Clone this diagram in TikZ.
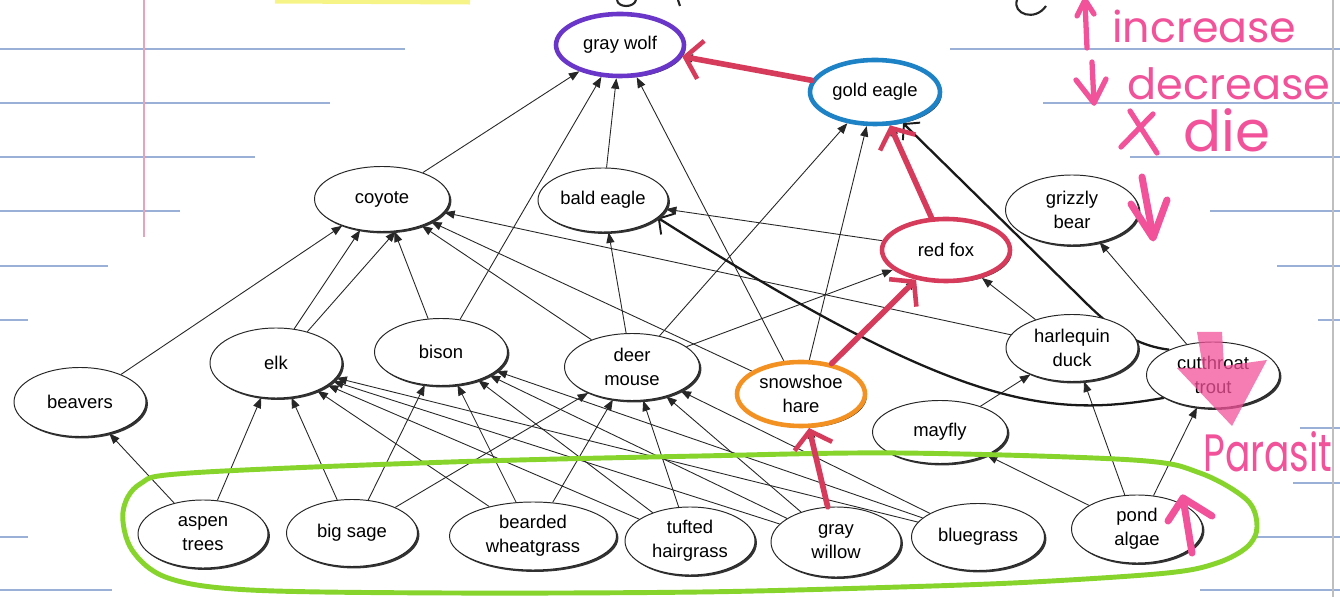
\documentclass[tikz,border=0pt]{standalone}
\usepackage{fontspec}
\setmainfont{Liberation Sans}
\newfontfamily\hand{Poppins}
\usetikzlibrary{shapes.geometric,arrows.meta,shadows}
\pgfdeclarelayer{bg}
\pgfdeclarelayer{edges}
\pgfsetlayers{bg,edges,main}
\definecolor{nbblue}{HTML}{9AB0D6}
\definecolor{marginred}{HTML}{E9A3B6}
\definecolor{wolfpurple}{HTML}{6A36C9}
\definecolor{eagleblue}{HTML}{1E82C6}
\definecolor{hareorange}{HTML}{F39222}
\definecolor{foxred}{HTML}{D63B5B}
\definecolor{limegreen}{HTML}{86D42C}
\definecolor{pinkink}{HTML}{F2529A}
\definecolor{hilite}{HTML}{F6F26A}
\begin{document}
\begin{tikzpicture}[x=0.02cm,y=-0.02cm,
  sp/.style={ellipse, draw=black!85, line width=0.55pt, fill=white, inner sep=0pt,
    align=center, font=\fontsize{10.5}{13.6}\selectfont,
    minimum width=2.64cm, minimum height=1.34cm,
    drop shadow={shadow xshift=1.1pt, shadow yshift=-1.1pt, fill=black!80, opacity=1}},
  sz/.style 2 args={minimum width=#1*0.02cm, minimum height=#2*0.02cm},
  ring/.style={draw=#1, line width=2.6pt},
  eat/.style={draw=black!85, line width=0.5pt, -{Triangle[length=6pt,width=4.6pt]}},
  redeat/.style={draw=foxred, line width=3.2pt, line cap=round,
    -{Straight Barb[length=9pt,width=22pt,line width=2.6pt]}},
  handline/.style={draw=black!90, line width=1.3pt,
    -{Straight Barb[length=6pt,width=14pt,line width=1.1pt]}},
  nbline/.style={draw=nbblue, line width=0.9pt},
  pinkpen/.style={draw=pinkink, line width=3pt, line cap=round, line join=round},
  handtext/.style={anchor=base west, inner sep=0pt, text=pinkink},
]
\useasboundingbox (0,0) rectangle (1340,597);

% ---------- notebook paper ----------
\begin{pgfonlayer}{bg}
\fill[white] (0,0) rectangle (1340,597);
\draw[nbline] (0,49) -- (405,49);
\draw[nbline] (0,103) -- (330,103);
\draw[nbline] (0,157) -- (255,157);
\draw[nbline] (0,211) -- (180,211);
\draw[nbline] (0,266) -- (108,266);
\draw[nbline] (0,320) -- (28,320);
\draw[nbline] (0,537) -- (28,537);
\draw[nbline] (0,590) -- (112,590);
\draw[nbline] (950,49) -- (1340,49);
\draw[nbline] (1043,103) -- (1340,103);
\draw[nbline] (1130,157) -- (1340,157);
\draw[nbline] (1210,211) -- (1340,211);
\draw[nbline] (1277,266) -- (1340,266);
\draw[nbline] (1318,320) -- (1340,320);
\draw[nbline] (1300,428) -- (1340,428);
\draw[nbline] (1293,483) -- (1340,483);
\draw[nbline] (1257,537) -- (1340,537);
\draw[nbline] (1200,590) -- (1340,590);
\draw[marginred, line width=0.9pt] (144,0) -- (144,237);
\draw[black!25, line width=0.8pt] (1333,0) -- (1333,597);
\draw[hilite, line width=4pt, opacity=.8] (275,0) -- (470,1);
\draw[black!85, line width=1.2pt] (1017,0) .. controls (1012,14) and (1035,22) .. (1046,6);
\draw[black!85, line width=1.2pt] (617,0) .. controls (618,8) and (634,8) .. (636,0);
\draw[black!85, line width=1.2pt] (678,0) -- (680,6);
\end{pgfonlayer}

% ---------- species ----------
\node[sp, sz={128}{62}, ring=wolfpurple] (graywolf) at (620,45) {gray wolf};
\node[sp, sz={130}{64}, ring=eagleblue] (goldeagle) at (875,92) {gold eagle};
\node[sp, sz={135}{65}] (coyote) at (382,199) {coyote};
\node[sp, sz={130}{64}] (baldeagle) at (603,200) {bald eagle};
\node[sp, sz={133}{70}] (grizzly) at (1072,210) {grizzly\\bear};
\node[sp, sz={128}{62}, ring=foxred] (redfox) at (946,250) {red fox};
\node[sp, sz={132}{69}] (beavers) at (80,402) {beavers};
\node[sp, sz={132}{70}] (elk) at (276,363) {elk};
\node[sp, sz={133}{67}] (bison) at (441,352) {bison};
\node[sp, sz={135}{67}] (deermouse) at (632,367) {deer\\mouse};
\node[sp, sz={128}{64}, ring=hareorange] (hare) at (801,394) {snowshoe\\hare};
\node[sp, sz={132}{67}] (duck) at (1072,348) {harlequin\\duck};
\node[sp, sz={133}{66}] (trout) at (1213,375) {cutthroat\\trout};
\node[sp, sz={135}{63}] (mayfly) at (940,432) {mayfly};
\node[sp, sz={130}{68}] (aspen) at (203,534) {aspen\\trees};
\node[sp, sz={131}{67}] (sage) at (352,533) {big sage};
\node[sp, sz={167}{68}] (wheatgrass) at (533,536) {bearded\\wheatgrass};
\node[sp, sz={130}{68}] (hairgrass) at (690,541) {tufted\\hairgrass};
\node[sp, sz={130}{70}] (willow) at (836,542) {gray\\willow};
\node[sp, sz={133}{67}] (bluegrass) at (978,537) {bluegrass};
\node[sp, sz={131}{68}] (algae) at (1137,529) {pond\\algae};

% ---------- who eats whom ----------
\begin{pgfonlayer}{edges}
\draw[eat] (coyote) -- (graywolf);
\draw[eat] (bison) -- (graywolf);
\draw[eat] (baldeagle) -- (graywolf);
\draw[eat] (hare) -- (graywolf);
\draw[eat] (goldeagle) -- (graywolf);
\draw[eat] (deermouse) -- (goldeagle);
\draw[eat] (hare) -- (goldeagle);
\draw[eat] (redfox) -- (goldeagle);
\draw[eat] (deermouse) -- (baldeagle);
\draw[eat] (redfox) -- (baldeagle);
\draw[eat] (beavers) -- (coyote);
\draw[eat] (elk.62) -- (coyote.-125);
\draw[eat] (elk.45) -- (coyote.-67);
\draw[eat] (bison) -- (coyote);
\draw[eat] (deermouse) -- (coyote);
\draw[eat] (hare) -- (coyote);
\draw[eat] (duck) -- (coyote);
\draw[eat] (deermouse) -- (redfox);
\draw[eat] (hare) -- (redfox);
\draw[eat] (duck) -- (redfox);
\draw[eat] (trout) -- (grizzly);
\draw[eat] (mayfly) -- (duck);
\draw[eat] (algae) -- (duck);
\draw[eat] (algae) -- (trout);
\draw[eat] (algae) -- (mayfly);
\draw[eat] (aspen) -- (beavers);
\draw[eat] (aspen) -- (elk);
\foreach \p in {sage,wheatgrass,hairgrass,willow,bluegrass} {
  \draw[eat] (\p) -- (elk);
  \draw[eat] (\p) -- (bison);
  \draw[eat] (\p) -- (deermouse);
}
\draw[eat] (willow) -- (hare);
% hand-drawn links to the trout
\draw[handline] (trout.205) .. controls (1050,418) and (960,410) .. (baldeagle.-18);
\draw[handline] (trout.150) .. controls (1130,345) and (1105,322) .. (1080,297) -- (goldeagle.-48);
\end{pgfonlayer}

% ---------- green marker loop round the producers ----------
\draw[limegreen, line width=2.8pt] plot[smooth cycle, tension=0.55] coordinates {
  (190,473) (450,462) (700,456) (900,453) (1133,460) (1200,473) (1247,500)
  (1257,527) (1247,547) (1217,563) (1167,573) (1033,582) (900,587) (700,592)
  (450,593) (250,590) (168,578) (132,550) (123,512) (140,484)};

% ---------- red marker chain ----------
\draw[redeat] (goldeagle) -- (graywolf);
\draw[redeat] (redfox) -- (goldeagle);
\draw[redeat] (hare) -- (redfox);
\draw[redeat] (willow) -- (hare);

% ---------- pink key and notes ----------
\draw[pinkpen] (1087,48) -- (1085,2);
\draw[pinkpen] (1077,16) -- (1085,0) -- (1094,14);
\node[handtext] (inc) at (1112,43) {\resizebox{3.68cm}{!}{\hand increase}};
\draw[pinkpen] (1092,62) -- (1094,103);
\draw[pinkpen] (1076,80) -- (1094,103) -- (1106,79);
\node[handtext] (dec) at (1127,100) {\resizebox{4.06cm}{!}{\hand decrease}};
\draw[pinkpen] (1130,111) -- (1157,153);
\draw[pinkpen] (1153,114) -- (1121,147);
\node[handtext] (die) at (1183,152) {\resizebox{1.74cm}{!}{\hand die}};
\draw[pinkpen, line width=4pt] (1142,177) -- (1153,236);
\draw[pinkpen, line width=4pt] (1131,204) -- (1153,238) -- (1167,200);
\fill[pinkink, opacity=.75] (1197,332) -- (1222,332) -- (1224,366) -- (1267,360)
  -- (1232,426) -- (1177,368) -- (1203,368) -- cycle;
\node[handtext] (para) at (1203,472) {\resizebox{2.58cm}{0.8cm}{\hand Parasit}};
\draw[pinkpen, line width=4pt] (1192,553) -- (1183,498);
\draw[pinkpen, line width=4pt] (1168,521) -- (1183,498) -- (1212,516);
\end{tikzpicture}
\end{document}
